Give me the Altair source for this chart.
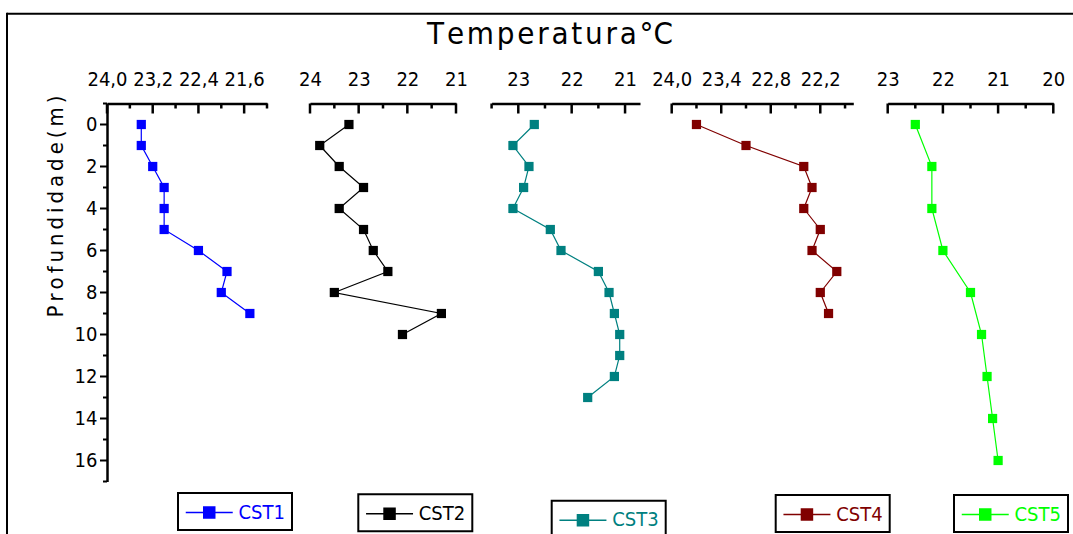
import altair as alt
import pandas as pd

FONT = "DejaVu Sans Condensed, Liberation Sans Narrow, sans-serif"

# ---- station profiles: depth (m) and temperature (°C) ----
cst1_depth = [0, 1, 2, 3, 4, 5, 6, 7, 8, 9]
cst1_temp = [23.4, 23.4, 23.2, 23.0, 23.0, 23.0, 22.4, 21.9, 22.0, 21.5]

cst2_depth = [0, 1, 2, 3, 4, 5, 6, 7, 8, 9, 10]
cst2_temp = [23.2, 23.8, 23.4, 22.9, 23.4, 22.9, 22.7, 22.4, 23.5, 21.3, 22.1]

cst3_depth = [0, 1, 2, 3, 4, 5, 6, 7, 8, 9, 10, 11, 12, 13]
cst3_temp = [22.7, 23.1, 22.8, 22.9, 23.1, 22.4, 22.2, 21.5, 21.3, 21.2, 21.1, 21.1, 21.2, 21.7]

cst4_depth = [0, 1, 2, 3, 4, 5, 6, 7, 8, 9]
cst4_temp = [23.7, 23.1, 22.4, 22.3, 22.4, 22.2, 22.3, 22.0, 22.2, 22.1]

cst5_depth = [0, 2, 4, 6, 8, 10, 12, 14, 16]
cst5_temp = [22.5, 22.2, 22.2, 22.0, 21.5, 21.3, 21.2, 21.1, 21.0]

series = ["CST1", "CST2", "CST3", "CST4", "CST5"]
colors = ["#0000ff", "#000000", "#008080", "#800000", "#00ff00"]

# temperature axes (reversed: warm on the left)
x_domains = [[24.0, 21.2], [24.0, 21.0], [23.5, 20.72], [24.0, 21.8], [23.0, 20.0]]
x_major = [[24.0, 23.2, 22.4, 21.6], [24, 23, 22, 21], [23, 22, 21],
           [24.0, 23.4, 22.8, 22.2], [23, 22, 21, 20]]
x_minor = [[23.6, 22.8, 22.0, 21.2], [23.5, 22.5, 21.5], [23.5, 22.5, 21.5],
           [23.7, 23.1, 22.5, 21.9], [22.5, 21.5, 20.5]]
decimal_comma = [True, False, False, True, False]

# depth axis
depth_domain = [-1, 17]
depth_major = [0, 2, 4, 6, 8, 10, 12, 14, 16]
depth_minor = [-1, 1, 3, 5, 7, 9, 11, 13, 15, 17]

# ---- layout ----
W, H = 966, 378
PAD = {"left": 107, "top": 103.5, "right": 0, "bottom": 52.5}
panel_ranges = [[0, 160], [203, 349], [384.6, 533], [564.7, 746.3], [780.7, 946.3]]
legend_pos = [(71, 389.5), (251.3, 390.8), (444.7, 397.2), (668.7, 391.5), (847, 391.5)]

# legend glyph: line with a centred square, drawn over twice the nominal symbol width
LEGEND_SYMBOL = "M-1,0H0.532M1.468,0H3M0.532,-0.468H1.468V0.468H0.532Z"
LEGEND_SIZE = 552


def spaced(text, sep="\u2009"):
    return sep.join(text)


y_scale = alt.Scale(domain=depth_domain, reverse=True, nice=False, zero=False)
y_axis = alt.Axis(
    orient="left", values=depth_major, format="d", ticks=False, tickSize=0,
    domainWidth=2.5, domainColor="black", labelFont=FONT, labelFontSize=20,
    labelColor="black", labelPadding=10, labelFlush=False, labelOverlap=False,
    grid=False, title=spaced("Profundidade(m)"), titleFont=FONT, titleFontSize=22,
    titleFontWeight="normal", titleColor="black", titleX=-52, titleY=102.5,
    titleAngle=270, titleAlign="center", titleBaseline="middle",
)


def Y(field):
    return alt.Y(field, scale=y_scale, axis=y_axis)


def panel(i, depths, temps):
    name, color = series[i], colors[i]
    df = pd.DataFrame({"depth": depths, "temp": temps, "series": name})
    xs = alt.Scale(domain=x_domains[i], range=panel_ranges[i], nice=False, zero=False)
    if decimal_comma[i]:
        lab = "replace(format(datum.value, '.1f'), '.', ',')"
    else:
        lab = "format(datum.value, 'd')"
    xa = alt.Axis(
        orient="top", values=x_major[i], labelExpr=lab, ticks=False, tickSize=0,
        domainWidth=2.5, domainColor="black", labelFont=FONT, labelFontSize=20,
        labelColor="black", labelPadding=14, labelFlush=False, labelOverlap=False,
        grid=False, title=None,
    )

    def X(field):
        return alt.X(field, scale=xs, axis=xa)

    line = alt.Chart(df).mark_line(color=color, strokeWidth=1.2).encode(
        x=X("temp:Q"), y=Y("depth:Q"), order=alt.Order("depth:Q")
    )
    pts = alt.Chart(df).mark_point(shape="square", filled=True, size=85, opacity=1).encode(
        x=X("temp:Q"), y=Y("depth:Q"),
        color=alt.Color(
            "series:N",
            scale=alt.Scale(domain=[name], range=[color]),
            legend=alt.Legend(
                orient="none", legendX=legend_pos[i][0], legendY=legend_pos[i][1],
                title=None, strokeColor="black", fillColor="white", padding=7,
                symbolType=LEGEND_SYMBOL, symbolSize=LEGEND_SIZE, symbolStrokeWidth=1.5,
                symbolStrokeColor=color, symbolFillColor=color, symbolOpacity=1,
                labelFont=FONT, labelFontSize=20, labelColor=color, labelOffset=28.5,
            ),
        ),
    )
    ticks_major = alt.Chart(pd.DataFrame({"t": x_major[i]})).mark_rule(
        color="black", strokeWidth=2.5
    ).encode(x=X("t:Q"), y=alt.value(0), y2=alt.value(10))
    ticks_minor = alt.Chart(pd.DataFrame({"t": x_minor[i]})).mark_rule(
        color="black", strokeWidth=2.5
    ).encode(x=X("t:Q"), y=alt.value(0), y2=alt.value(5))
    return alt.layer(line, pts, ticks_major, ticks_minor)


panels = [
    panel(0, cst1_depth, cst1_temp),
    panel(1, cst2_depth, cst2_temp),
    panel(2, cst3_depth, cst3_temp),
    panel(3, cst4_depth, cst4_temp),
    panel(4, cst5_depth, cst5_temp),
]

# depth-axis ticks pointing outward
ytick_major = alt.Chart(pd.DataFrame({"d": depth_major})).mark_rule(
    color="black", strokeWidth=2
).encode(y=Y("d:Q"), x=alt.value(-7), x2=alt.value(0))
ytick_minor = alt.Chart(pd.DataFrame({"d": depth_minor})).mark_rule(
    color="black", strokeWidth=2
).encode(y=Y("d:Q"), x=alt.value(-4), x2=alt.value(0))

# outer frame lines and the heading inside the frame
frame_df = pd.DataFrame({"k": [0]})
frame_top = alt.Chart(frame_df).mark_rule(color="black", strokeWidth=2).encode(
    x=alt.value(-100), x2=alt.value(W), y=alt.value(-89.7)
)
frame_left = alt.Chart(frame_df).mark_rule(color="black", strokeWidth=2).encode(
    x=alt.value(-100), y=alt.value(-90.7), y2=alt.value(H + PAD["bottom"])
)
heading = alt.Chart(frame_df).mark_text(
    text=spaced("Temperatura", "\u200a") + "\u200a°C", font=FONT, fontSize=31,
    color="black", align="center", baseline="alphabetic",
).encode(x=alt.value(443), y=alt.value(-59.5))

chart = (
    alt.layer(frame_top, frame_left, heading, ytick_major, ytick_minor, *panels)
    .resolve_scale(x="independent", color="independent")
    .resolve_axis(x="independent")
    .resolve_legend(color="independent")
    .properties(
        width=W, height=H, padding=PAD,
        autosize=alt.AutoSizeParams(type="none"),
    )
    .configure_view(stroke=None)
    .configure_legend(strokeWidth=2)
)

chart.save("out.html", embed_options={"renderer": "svg", "actions": False})
